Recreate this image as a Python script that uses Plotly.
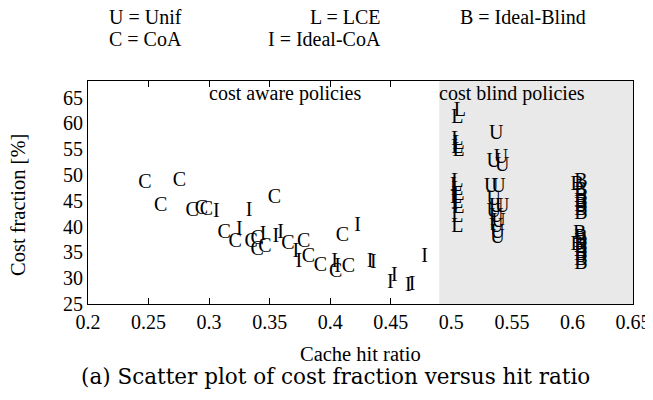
import plotly.graph_objects as go

# ---- data ----
coa_x = [0.247, 0.2755, 0.260, 0.286, 0.2936, 0.2977, 0.354, 0.3125, 0.3215, 0.3347,
         0.3396, 0.3396, 0.346, 0.365, 0.378, 0.382, 0.392, 0.4044, 0.415, 0.410]
coa_y = [48.4, 48.8, 44.0, 43.1, 43.4, 43.2, 45.5, 38.8, 37.0, 37.0,
         37.6, 35.5, 36.1, 36.6, 37.0, 34.1, 32.4, 31.2, 32.2, 38.2]

icoa_x = [0.306, 0.333, 0.325, 0.3445, 0.355, 0.359, 0.3716, 0.374, 0.4036, 0.406,
          0.4225, 0.433, 0.4356, 0.4496, 0.4529, 0.4644, 0.4677, 0.478]
icoa_y = [42.8, 43.0, 39.3, 38.4, 38.0, 38.8, 35.1, 33.1, 33.1, 32.2,
          40.1, 33.1, 32.9, 29.1, 30.4, 28.5, 28.7, 34.1]

lce_x = [0.507, 0.505, 0.505, 0.506, 0.505, 0.506, 0.505, 0.504, 0.505, 0.506,
         0.504, 0.505, 0.506, 0.505, 0.505]
lce_y = [62.3, 61.0, 56.8, 56.0, 55.2, 54.6, 48.6, 47.8, 47.0, 46.2,
         45.5, 44.6, 43.6, 41.8, 40.0]

unif_x = [0.537, 0.535, 0.541, 0.542, 0.533, 0.539, 0.535, 0.537, 0.542, 0.535,
          0.537, 0.539, 0.537, 0.538, 0.538]
unif_y = [58.0, 52.5, 53.3, 51.8, 47.7, 47.7, 45.2, 43.8, 43.8, 42.8,
          41.9, 40.8, 39.9, 38.8, 37.8]

blind_x = [0.607, 0.604, 0.607, 0.607, 0.607, 0.607, 0.607, 0.607, 0.606, 0.607,
           0.607, 0.604, 0.607, 0.607, 0.607, 0.607, 0.607]
blind_y = [48.6, 48.0, 46.8, 45.8, 44.8, 44.0, 43.2, 42.4, 38.5, 37.7,
           37.0, 36.5, 36.0, 35.2, 34.4, 33.6, 32.8]

series = [("C", coa_x, coa_y), ("I", icoa_x, icoa_y), ("L", lce_x, lce_y),
          ("U", unif_x, unif_y), ("B", blind_x, blind_y)]

x_ticks = [0.2, 0.25, 0.3, 0.35, 0.4, 0.45, 0.5, 0.55, 0.6, 0.65]
x_tick_labels = ["0.2", "0.25", "0.3", "0.35", "0.4", "0.45", "0.5", "0.55", "0.6", "0.65"]
x_inner_ticks = [0.25, 0.3, 0.35, 0.4, 0.45]
y_ticks = [25, 30, 35, 40, 45, 50, 55, 60, 65]
x_range = [0.2, 0.65]
y_range = [25, 68.2]
blind_start = 0.49

FONT = "Liberation Serif"

fig = go.Figure()
for letter, xs, ys in series:
    fig.add_trace(go.Scatter(
        x=xs, y=ys, mode="text", text=[letter] * len(xs),
        textposition="middle center",
        textfont=dict(family=FONT, size=20, color="black"),
        showlegend=False, hoverinfo="skip", cliponaxis=False))

# invisible trace for the secondary (tick-only) axis
fig.add_trace(go.Scatter(x=[x_range[0]], y=[y_range[0]], xaxis="x2", mode="markers",
                         marker=dict(opacity=0), showlegend=False, hoverinfo="skip"))

fig.add_shape(type="rect", xref="x", yref="y", x0=blind_start, x1=x_range[1],
              y0=y_range[0], y1=y_range[1], fillcolor="#e9e9e9",
              line=dict(width=0), layer="below")

W, H = 653, 400
OFF = 8  # page offset of the figure (default body margin)
# plot area in page pixels: left 88, right 633, top 81, bottom 304
L, T = 88 - OFF, 81 - OFF
R = W - (633 - OFF)
B = H - (304 - OFF)
pw, ph = W - L - R, H - T - B


def px2paper(px, py):
    fx, fy = px - OFF, py - OFF
    return (fx - L) / pw, (H - B - fy) / ph


annots = []
for txt, px, py, anchor in [("U = Unif", 107, 17, "left"), ("L = LCE", 383, 17, "right"),
                            ("B = Ideal-Blind", 458, 17, "left"),
                            ("C = CoA", 107, 39, "left"), ("I = Ideal-CoA", 383, 39, "right")]:
    xp, yp = px2paper(px, py)
    annots.append(dict(text=txt, x=xp, y=yp, xref="paper", yref="paper", xanchor=anchor,
                       yanchor="middle", showarrow=False,
                       font=dict(family=FONT, size=20, color="black")))

annots.append(dict(text="cost aware policies", x=0.363, y=65.7, xref="x", yref="y",
                   xanchor="center", yanchor="middle",
                   showarrow=False, font=dict(family=FONT, size=20, color="black")))
annots.append(dict(text="cost blind policies", x=0.55, y=65.7, xref="x", yref="y",
                   xanchor="center", yanchor="middle",
                   showarrow=False, font=dict(family=FONT, size=20, color="black")))

xp, yp = px2paper(360, 354)
annots.append(dict(text="Cache hit ratio", x=xp, y=yp, xref="paper", yref="paper",
                   xanchor="center", yanchor="middle",
                   showarrow=False, font=dict(family=FONT, size=20.5, color="black")))
xp, yp = px2paper(18, 205)
annots.append(dict(text="Cost fraction [%]", x=xp, y=yp, xref="paper", yref="paper",
                   xanchor="center", yanchor="middle",
                   textangle=-90, showarrow=False,
                   font=dict(family=FONT, size=20.5, color="black")))
xp, yp = px2paper(335, 376)
annots.append(dict(text="(a) Scatter plot of cost fraction versus hit ratio", x=xp, y=yp,
                   xref="paper", yref="paper", xanchor="center", yanchor="middle",
                   showarrow=False,
                   font=dict(family="DejaVu Serif", size=21.5, color="black")))

fig.update_layout(
    width=W, height=H, margin=dict(l=L, r=R, t=T, b=B, autoexpand=False),
    paper_bgcolor="white", plot_bgcolor="white",
    xaxis=dict(range=x_range, tickvals=x_ticks, ticktext=x_tick_labels, ticks="",
               showgrid=False, zeroline=False, showline=True, linecolor="black",
               linewidth=1, mirror=True, automargin=False,
               tickfont=dict(family=FONT, size=20, color="black")),
    xaxis2=dict(range=x_range, overlaying="x", side="bottom", tickvals=x_inner_ticks,
                ticks="inside", ticklen=6, tickcolor="black", showticklabels=False,
                showgrid=False, zeroline=False, showline=False, mirror="ticks",
                automargin=False),
    yaxis=dict(range=y_range, tickvals=y_ticks, ticks="", showgrid=False,
               zeroline=False, showline=True, linecolor="black", linewidth=1,
               mirror=True, automargin=False,
               tickfont=dict(family=FONT, size=20, color="black")),
    annotations=annots,
)

fig.write_html("out.html")
